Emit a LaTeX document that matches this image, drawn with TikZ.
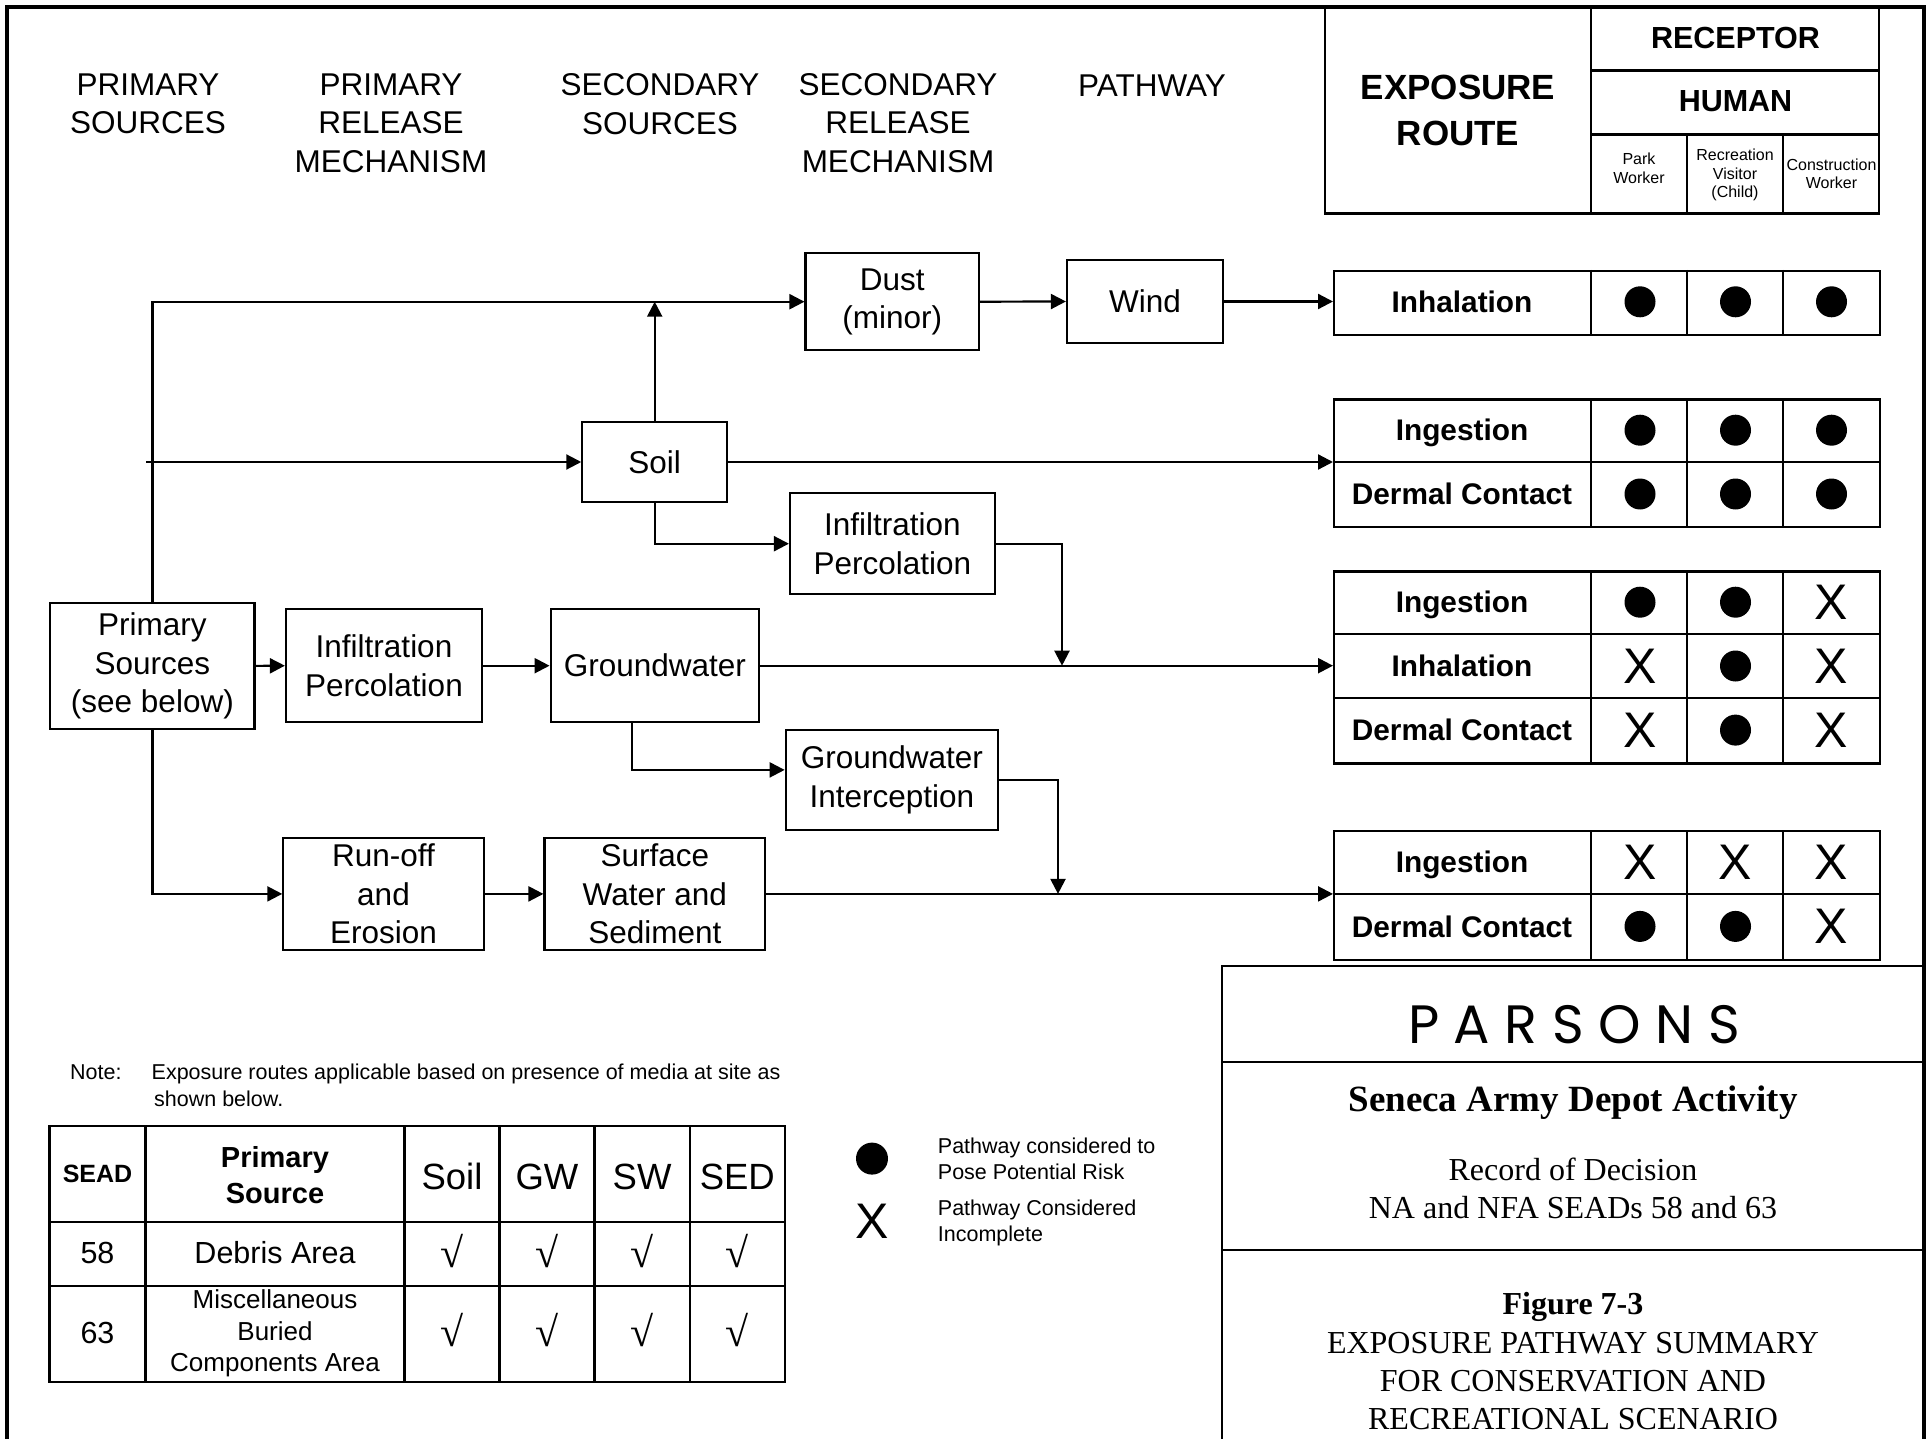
\documentclass[tikz,border=0pt]{standalone}
\usepackage{fontspec}
\setmainfont{Liberation Sans}
\newfontfamily\seriffont{Liberation Serif}
\newfontfamily\parsfont[LetterSpace=27]{Poppins}
\usetikzlibrary{arrows.meta,calc}
\newcommand\fsz[2]{\fontsize{#1}{#2}\selectfont}
\begin{document}
\begin{tikzpicture}[x=1pt,y=-1pt,
  ln/.style={line width=2.2pt},
  arr/.style={ln,-{Triangle[length=15pt,width=15pt]}},
  box/.style={draw,ln,inner sep=0pt,align=center,font=\fsz{31.5}{38.5}},
  hdr/.style={inner sep=0pt,align=center,font=\fsz{31.5}{38.5}},
  route/.style={inner sep=0pt,align=center,font=\bfseries\fsz{35}{45.6}},
  rec/.style={inner sep=0pt,font=\bfseries\fsz{30.5}{36},text height=21.8pt,text depth=0pt},
  sub/.style={inner sep=0pt,align=center,font=\fsz{16}{18.5}},
  lbl/.style={inner sep=0pt,font=\bfseries\fsz{29.8}{36},text height=21.3pt,text depth=0pt},
  dot/.style={circle,fill=black,inner sep=0pt,minimum size=31pt},
  xm/.style={inner sep=0pt,font=\fsz{50}{50}},
  tbl/.style={line width=2.4pt},
  nt/.style={inner sep=0pt,font=\fsz{21.5}{26}},
  sead/.style={inner sep=0pt,font=\bfseries\fsz{25}{30}},
  psrc/.style={inner sep=0pt,align=center,font=\bfseries\fsz{29}{36.5}},
  media/.style={inner sep=0pt,font=\fsz{36.5}{40}},
  rowt/.style={inner sep=0pt,font=\fsz{30.5}{36}},
  misc/.style={inner sep=0pt,align=center,font=\fsz{26}{31.7}},
  chk/.style={inner sep=0pt,font=\seriffont\fsz{42}{42}},
  ttl/.style={inner sep=0pt,anchor=base,font=\seriffont\fsz{32}{38}},
  ttlb/.style={inner sep=0pt,anchor=base,font=\seriffont\bfseries\fsz{32}{38}}
]
\useasboundingbox (0,0) rectangle (1931,1439);
% outer border
\draw[line width=3.2pt] (7,1439) -- (7,7) -- (1924,7) -- (1924,1439);

% column headers
\node[hdr] (h1) at (148,104) {PRIMARY\\SOURCES};
\node[hdr] (h2) at (391,123) {PRIMARY\\RELEASE\\MECHANISM};
\node[hdr] (h3) at (660,104) {SECONDARY\\SOURCES};
\node[hdr] (h4) at (898,123) {SECONDARY\\RELEASE\\MECHANISM};
\node[hdr] (h5) at (1152,85.3) {PATHWAY};

% receptor header table
\draw[line width=2.6pt] (1325,7) -- (1325,213.3) -- (1879,213.3) -- (1879,7);
\draw[line width=2.6pt] (1591,7) -- (1591,213.3);
\draw[line width=2.6pt] (1591,70.3) -- (1879,70.3);
\draw[line width=2.6pt] (1591,134.3) -- (1879,134.3);
\draw[line width=2.6pt] (1687,134.3) -- (1687,213.3);
\draw[line width=2.6pt] (1783,134.3) -- (1783,213.3);
\node[route] (er) at (1458,110.5) {EXPOSURE\\ROUTE};
\node[rec] (rc) at (1735.5,37.5) {RECEPTOR};
\node[rec] (hu) at (1735.5,100.8) {HUMAN};
\node[sub] (s1) at (1639,168.3) {Park\\Worker};
\node[sub] (s2) at (1735,175) {Recreation\\Visitor\\(Child)};
\node[sub] (s3) at (1831.5,173.8) {Construction\\Worker};

% flow boxes
\node[box,minimum width=173.5pt,minimum height=96.7pt] (dust) at (892.3,301.7) {Dust\\(minor)};
\node[box,minimum width=156pt,minimum height=83pt] (wind) at (1145,301.5) {Wind};
\node[box,minimum width=144.7pt,minimum height=80.6pt] (soil) at (654.7,462) {Soil};
\node[box,minimum width=204.6pt,minimum height=100.7pt] (infu) at (892.3,543.7) {Infiltration\\Percolation};
\node[box,minimum width=204.3pt,minimum height=126.3pt] (prim) at (152.4,665.9) {Primary\\Sources\\(see below)};
\node[box,minimum width=196pt,minimum height=112.7pt] (infl) at (384,665.7) {Infiltration\\Percolation};
\node[box,minimum width=208.3pt,minimum height=112.7pt] (gw) at (654.8,665.7) {Groundwater};
\node[box,minimum width=212.3pt,minimum height=100.3pt] (gwi) at (891.9,779.9) {Groundwater\\Interception};
\node[box,minimum width=200.3pt,minimum height=112.3pt] (run) at (383.5,893.9) {Run-off\\and\\Erosion};
\node[box,minimum width=220.5pt,minimum height=112.3pt] (sw) at (654.8,893.9) {Surface\\Water and\\Sediment};

% pathway tables (blocks)
\node[draw,tbl,inner sep=0pt,anchor=north west,minimum width=546pt,minimum height=63.9pt] (B1) at (1333,269.8) {};
\node[draw,tbl,inner sep=0pt,anchor=north west,minimum width=546pt,minimum height=127.6pt] (B2) at (1333,398.4) {};
\node[draw,tbl,inner sep=0pt,anchor=north west,minimum width=546pt,minimum height=191.9pt] (B3) at (1333,570.3) {};
\node[draw,tbl,inner sep=0pt,anchor=north west,minimum width=546pt,minimum height=128.7pt] (B4) at (1333,830) {};
\foreach \xx in {1591,1687,1783}{
  \draw[tbl] (\xx,269.8) -- (\xx,333.7);
  \draw[tbl] (\xx,398.4) -- (\xx,526);
  \draw[tbl] (\xx,570.3) -- (\xx,762.2);
  \draw[tbl] (\xx,830) -- (\xx,958.7);
}
\draw[tbl] (1333,462) -- (1879,462);
\draw[tbl] (1333,634) -- (1879,634);
\draw[tbl] (1333,698) -- (1879,698);
\draw[tbl] (1333,894) -- (1879,894);

\node[lbl] (l11) at (1462,301.8) {Inhalation};
\node[lbl] (l21) at (1462,430.2) {Ingestion};
\node[lbl] (l22) at (1462,494) {Dermal Contact};
\node[lbl] (l31) at (1462,602.2) {Ingestion};
\node[lbl] (l32) at (1462,666) {Inhalation};
\node[lbl] (l33) at (1462,730.1) {Dermal Contact};
\node[lbl] (l41) at (1462,862) {Ingestion};
\node[lbl] (l42) at (1462,926.4) {Dermal Contact};

% marks
\node[dot] (m11a) at (1640,301.8) {};
\node[dot] (m11b) at (1735.5,301.8) {};
\node[dot] (m11c) at (1831.5,301.8) {};
\node[dot] (m21a) at (1640,430.2) {};
\node[dot] (m21b) at (1735.5,430.2) {};
\node[dot] (m21c) at (1831.5,430.2) {};
\node[dot] (m22a) at (1640,494) {};
\node[dot] (m22b) at (1735.5,494) {};
\node[dot] (m22c) at (1831.5,494) {};
\node[dot] (m31a) at (1640,602.2) {};
\node[dot] (m31b) at (1735.5,602.2) {};
\node[xm] (m31c) at (1831.5,602.2) {X};
\node[xm] (m32a) at (1640,666) {X};
\node[dot] (m32b) at (1735.5,666) {};
\node[xm] (m32c) at (1831.5,666) {X};
\node[xm] (m33a) at (1640,730.1) {X};
\node[dot] (m33b) at (1735.5,730.1) {};
\node[xm] (m33c) at (1831.5,730.1) {X};
\node[xm] (m41a) at (1640,862) {X};
\node[xm] (m41b) at (1735.5,862) {X};
\node[xm] (m41c) at (1831.5,862) {X};
\node[dot] (m42a) at (1640,926.4) {};
\node[dot] (m42b) at (1735.5,926.4) {};
\node[xm] (m42c) at (1831.5,926.4) {X};

% connectors
\coordinate (s0) at (146,462);
\coordinate (j1) at (1062,665.7);
\coordinate (j2) at (1058,893.9);
\draw[arr] (prim.north) |- (dust.west);
\draw[arr] (s0) -- (soil.west);
\draw[arr] (soil.north) -- (soil.north |- dust.west);
\draw[arr] (dust.east) -- (wind.west);
\draw[arr] (wind.east) -- (wind.east -| B1.west);
\draw[arr] (soil.east) -- (soil.east -| B2.west);
\draw[arr] (soil.south) |- (infu.west);
\draw[arr] (infu.east) -| (j1);
\draw[arr] (prim.east) -- (infl.west);
\draw[arr] (infl.east) -- (gw.west);
\draw[arr] (gw.east) -- (gw.east -| B3.west);
\draw[arr] ($(gw.south)+(-23,0)$) |- ($(gwi.west)+(0,-10)$);
\draw[arr] (gwi.east) -| (j2);
\draw[arr] (prim.south) |- (run.west);
\draw[arr] (run.east) -- (sw.west);
\draw[arr] (sw.east) -- (sw.east -| B4.west);

% note
\node[nt,anchor=base west] (note) at (70,1079.4) {Note:};
\node[nt,anchor=base west] (note2) at (151.5,1079.4) {Exposure routes applicable based on presence of media at site as};
\node[nt,anchor=base west] (note3) at (154,1106.7) {shown below.};

% source table
\draw[tbl] (49.5,1126) rectangle (784.7,1381.7);
\draw[tbl] (49.5,1221.7) -- (784.7,1221.7);
\draw[tbl] (49.5,1286) -- (784.7,1286);
\foreach \xx in {145.4,404.6,499.5,594.4,689.8}{\draw[tbl] (\xx,1126) -- (\xx,1381.7);}
\node[sead] (t1) at (97.5,1174) {SEAD};
\node[psrc] (t2) at (275,1175) {Primary\\Source};
\node[media] (t3) at (452,1176.7) {Soil};
\node[media] (t4) at (547,1176.7) {GW};
\node[media] (t5) at (642.1,1176.7) {SW};
\node[media] (t6) at (737.3,1176.7) {SED};
\node[rowt] (r1) at (97.5,1253) {58};
\node[rowt] (r2) at (275,1253) {Debris Area};
\node[rowt] (r3) at (97.5,1333) {63};
\node[misc] (r4) at (275,1333.5) {Miscellaneous\\Buried\\Components Area};
\node[chk] (k1) at (452,1250.7) {√};
\node[chk] (k2) at (547,1250.7) {√};
\node[chk] (k3) at (642.1,1250.7) {√};
\node[chk] (k4) at (737.3,1250.7) {√};
\node[chk] (k5) at (452,1330) {√};
\node[chk] (k6) at (547,1330) {√};
\node[chk] (k7) at (642.1,1330) {√};
\node[chk] (k8) at (737.3,1330) {√};

% legend
\node[dot,minimum size=32pt] (ld) at (872,1158.6) {};
\node[xm] (lx) at (872,1221.6) {X};
\node[nt,anchor=base west] (lg1) at (937.7,1153) {Pathway considered to};
\node[nt,anchor=base west] (lg2) at (937.7,1179) {Pose Potential Risk};
\node[nt,anchor=base west] (lg3) at (937.7,1215.6) {Pathway Considered};
\node[nt,anchor=base west] (lg4) at (937.7,1241.6) {Incomplete};

% title block
\draw[line width=2.6pt] (1222,1439) -- (1222,966) -- (1924,966);
\draw[line width=2.6pt] (1222,1062) -- (1924,1062);
\draw[line width=2.6pt] (1222,1250) -- (1924,1250);
\node[inner sep=0pt,anchor=base] (pars) at (1574,1043.3) {\parsfont\fsz{54}{54}PARSONS};
\node[inner sep=0pt,anchor=base,font=\seriffont\bfseries\fsz{37}{40}] (sen) at (1573,1111) {Seneca Army Depot Activity};
\node[ttl] (rod) at (1573,1180.5) {Record of Decision};
\node[ttl] (na) at (1573,1218.5) {NA and NFA SEADs 58 and 63};
\node[ttlb] (fig) at (1573,1314.7) {Figure 7-3};
\node[ttl] (f1) at (1573,1353) {EXPOSURE PATHWAY SUMMARY};
\node[ttl] (f2) at (1573,1391.3) {FOR CONSERVATION AND};
\node[ttl] (f3) at (1573,1429.5) {RECREATIONAL SCENARIO};
\end{tikzpicture}
\end{document}
